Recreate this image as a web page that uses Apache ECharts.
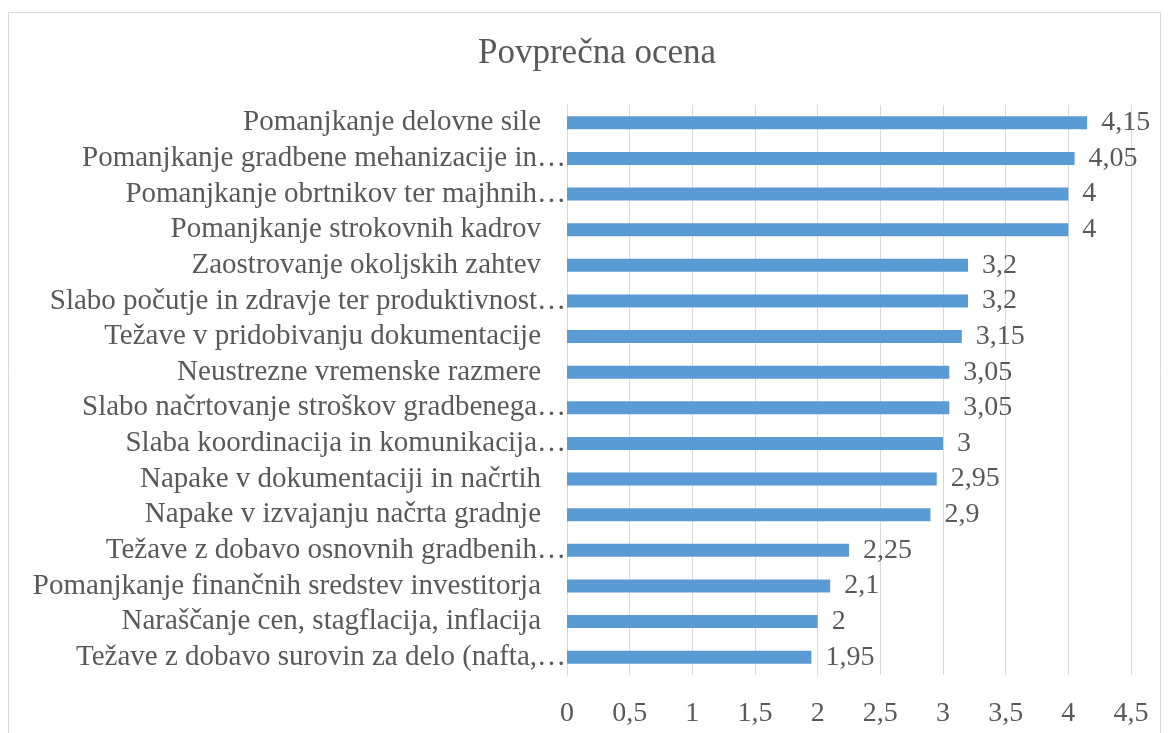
<!DOCTYPE html>
<html>
<head>
<meta charset="utf-8">
<script src="https://cdn.jsdelivr.net/npm/echarts@6/dist/echarts.min.js"></script>
<style>
html,body{margin:0;padding:0;background:#fff;}
#main{width:1169px;height:733px;}
</style>
</head>
<body>
<div id="main"></div>
<script>
const categories = [
  "Pomanjkanje delovne sile",
  "Pomanjkanje gradbene mehanizacije in…",
  "Pomanjkanje obrtnikov ter majhnih…",
  "Pomanjkanje strokovnih kadrov",
  "Zaostrovanje okoljskih zahtev",
  "Slabo počutje in zdravje ter produktivnost…",
  "Težave v pridobivanju dokumentacije",
  "Neustrezne vremenske razmere",
  "Slabo načrtovanje stroškov gradbenega…",
  "Slaba koordinacija in komunikacija…",
  "Napake v dokumentaciji in načrtih",
  "Napake v izvajanju načrta gradnje",
  "Težave z dobavo osnovnih gradbenih…",
  "Pomanjkanje finančnih sredstev investitorja",
  "Naraščanje cen, stagflacija, inflacija",
  "Težave z dobavo surovin za delo (nafta,…"
];
const values = [4.15, 4.05, 4, 4, 3.2, 3.2, 3.15, 3.05, 3.05, 3, 2.95, 2.9, 2.25, 2.1, 2, 1.95];
const titleText = "Povprečna ocena";

const fmt = v => String(v).replace('.', ',');
const font = "'Liberation Serif', 'Times New Roman', serif";
const textColor = '#595959';

const chart = echarts.init(document.getElementById('main'));
chart.setOption({
  backgroundColor: '#fff',
  animation: false,
  graphic: [{
    type: 'rect',
    shape: {x: 8.5, y: 12.5, width: 1152, height: 740},
    style: {fill: 'none', stroke: '#d9d9d9', lineWidth: 1},
    silent: true, z: -10
  }],
  title: {
    text: titleText,
    left: 473, top: 31,
    textStyle: {fontFamily: font, fontSize: 35, fontWeight: 'normal', color: textColor}
  },
  grid: {left: 567, right: 38, top: 105, bottom: 58, containLabel: false},
  xAxis: {
    type: 'value', min: 0, max: 4.5, interval: 0.5,
    axisLine: {show: false}, axisTick: {show: false},
    splitLine: {show: true, lineStyle: {color: '#d9d9d9', width: 1}},
    axisLabel: {
      formatter: v => fmt(v), margin: 25,
      fontFamily: font, fontSize: 28, color: textColor
    }
  },
  yAxis: {
    type: 'category', inverse: true, data: categories,
    axisLine: {show: true, lineStyle: {color: '#d9d9d9'}},
    axisTick: {show: false},
    axisLabel: {
      margin: 1, interval: 0,
      formatter: v => v.endsWith('…') ? '{e|' + v + '}' : '{n|' + v + '}',
      rich: {
        e: {fontFamily: font, fontSize: 29, color: textColor},
        n: {fontFamily: font, fontSize: 29, color: textColor, padding: [0, 25, 0, 0]}
      },
      fontFamily: font, fontSize: 29, color: textColor
    }
  },
  series: [{
    type: 'bar', data: values, barWidth: 13,
    itemStyle: {color: '#5B9BD5'},
    label: {
      show: true, position: 'right', distance: 14,
      formatter: p => fmt(p.value),
      fontFamily: font, fontSize: 28, color: textColor
    }
  }]
});
</script>
</body>
</html>
